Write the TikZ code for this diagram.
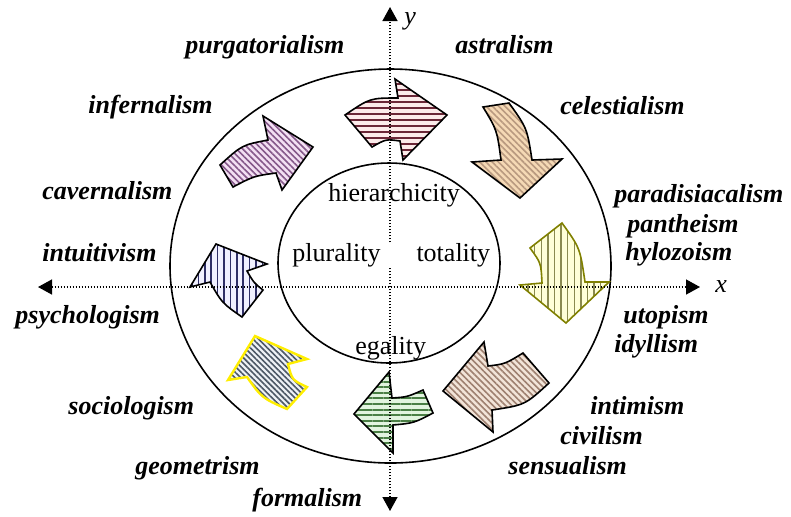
\documentclass[tikz,border=0pt]{standalone}
\usepackage{fontspec}
\setmainfont{Liberation Serif}
\usepackage{xcolor}
\usetikzlibrary{arrows.meta, positioning, patterns.meta}

\definecolor{rosefill}{HTML}{FCEBEA}
\definecolor{roseline}{HTML}{6B2737}
\definecolor{tanfill}{HTML}{F5D9B5}
\definecolor{tanline}{HTML}{B99A80}
\definecolor{olivefill}{HTML}{FFFFD8}
\definecolor{oliveline}{HTML}{8A8A50}
\definecolor{oliveedge}{HTML}{808000}
\definecolor{clayfill}{HTML}{F2E4D8}
\definecolor{clayline}{HTML}{9E8070}
\definecolor{leaffill}{HTML}{E2F4DF}
\definecolor{leafline}{HTML}{4A7F45}
\definecolor{steelfill}{HTML}{EEF2F6}
\definecolor{steelline}{HTML}{4C5866}
\definecolor{sunedge}{HTML}{FFEE00}
\definecolor{navyfill}{HTML}{F0F0FF}
\definecolor{navyline}{HTML}{2E2E66}
\definecolor{plumfill}{HTML}{F3E0F3}
\definecolor{plumline}{HTML}{85588A}

\tikzset{
  ring/.style={draw=black, line width=0.8pt},
  axis/.style={{Triangle[length=7pt,width=7.5pt]}-{Triangle[length=7pt,width=7.5pt]},
    line width=0.7pt, dash pattern=on 0.7pt off 0.8pt},
  curved/.style n args={5}{
    draw=black, line width=0.8pt, line join=miter,
    preaction={fill=#1},
    pattern={Lines[angle=#2,distance=#3,line width=#4]}, pattern color=#5
  },
  ism/.style={font=\fontsize{13}{15}\selectfont\bfseries\itshape,
    anchor=base west, inner sep=0pt},
  pole/.style={font=\fontsize{13}{15}\selectfont, anchor=base west, inner sep=0pt},
  axlabel/.style={font=\fontsize{13}{15}\selectfont\itshape, inner sep=0pt},
}

\begin{document}
\begin{tikzpicture}[x=0.5pt, y=-0.5pt]
  \useasboundingbox (0,0) rectangle (791,516);

  \draw[ring] (390.5,266) ellipse [x radius=220.5, y radius=197];
  \draw[ring] (389,263) ellipse [x radius=111, y radius=100];

  % curved arrows, clockwise from the top
  \draw[curved={rosefill}{0}{3pt}{1pt}{roseline}]
    (345,115) .. controls (370,98) .. (398,98) -- (395,79) -- (447,115)
    -- (403,160) -- (400,141) .. controls (386,139) .. (372,147) -- cycle;
  \draw[curved={tanfill}{-45}{2.2pt}{0.8pt}{tanline}]
    (483,107) -- (509,103) .. controls (527,128) .. (532,160) -- (562,159)
    -- (520,198) -- (472,162) -- (501,160) .. controls (497,130) .. (483,107) -- cycle;
  \draw[curved={olivefill}{90}{3.3pt}{0.7pt}{oliveline}, draw=oliveedge]
    (530,248) -- (562,223) .. controls (580,248) .. (585,282) -- (609,282)
    -- (566,323) -- (520,285) -- (542,283) .. controls (541,263) .. (530,248) -- cycle;
  \draw[curved={clayfill}{-45}{2.2pt}{0.8pt}{clayline}]
    (443,391) -- (484,342) -- (488,366) .. controls (505,364) .. (523,353)
    -- (549,383) .. controls (525,405) .. (492,410) -- (493,432) -- cycle;
  \draw[curved={leaffill}{0}{2.8pt}{1pt}{leafline}]
    (354,414) -- (389,372) -- (392,398) .. controls (407,397) .. (423,390)
    -- (433,413) .. controls (414,423) .. (393,425) -- (393,453) -- cycle;
  \draw[curved={steelfill}{-45}{2pt}{0.8pt}{steelline}, draw=sunedge, line width=1.2pt]
    (255,336) -- (307,359) -- (288,364) .. controls (292,380) .. (307,387)
    -- (287,409) .. controls (262,398) .. (247,377) -- (228,380) -- cycle;
  \draw[curved={navyfill}{90}{3.2pt}{0.8pt}{navyline}]
    (216,244) -- (267,264) -- (247,271) .. controls (254,283) .. (263,290)
    -- (242,317) .. controls (222,303) .. (210,282) -- (190,287) -- cycle;
  \draw[curved={plumfill}{-45}{2.2pt}{0.8pt}{plumline}]
    (220,165) .. controls (242,145) .. (268,140) -- (263,116) -- (313,147)
    -- (282,190) -- (276,173) .. controls (254,176) .. (233,187) -- cycle;

  \coordinate (xl) at (38,287);
  \coordinate (xr) at (700,287);
  \coordinate (yt) at (390,7);
  \coordinate (yb) at (390,511);
  \draw[axis] (xl) -- (xr);
  \draw[axis] (yb) -- (yt);
  \node[axlabel, right=7.5pt of xr] (xlab) {x};
  \node[axlabel, anchor=base west] (ylab) at (404,24) {y};

  \node[pole] (hier) at (328,201) {hierarchicity};
  \node[pole, fill=white] (plutot) at (292,261) {plurality\hspace{18pt}totality};
  \node[pole] (egal) at (355,354) {egality};

  \node[ism] (purg) at (185,53) {purgatorialism};
  \node[ism] (astr) at (455,53) {astralism};
  \node[ism] (infe) at (88,113) {infernalism};
  \node[ism] (cele) at (560,114) {celestialism};
  \node[ism] (cave) at (42,199) {cavernalism};
  \node[ism] (para) at (614,202) {paradisiacalism};
  \node[ism] (pant) at (627,232) {pantheism};
  \node[ism] (hylo) at (625,260) {hylozoism};
  \node[ism] (intu) at (42,261) {intuitivism};
  \node[ism] (psyc) at (15,323) {psychologism};
  \node[ism] (utop) at (623,323) {utopism};
  \node[ism] (idyl) at (614,352) {idyllism};
  \node[ism] (soci) at (68,414) {sociologism};
  \node[ism] (inti) at (590,414) {intimism};
  \node[ism] (civi) at (560,444) {civilism};
  \node[ism] (geom) at (135,474) {geometrism};
  \node[ism] (sens) at (508,474) {sensualism};
  \node[ism] (form) at (252,506) {formalism};
\end{tikzpicture}
\end{document}
